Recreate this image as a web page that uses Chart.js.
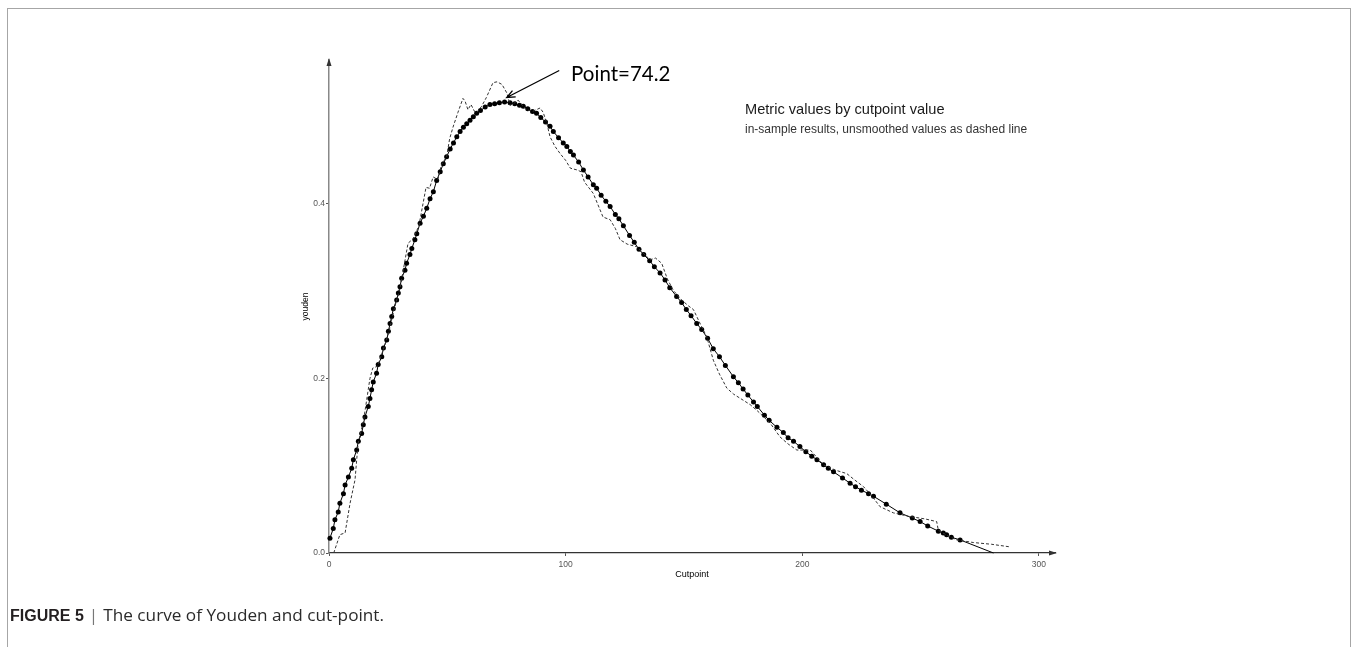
<!DOCTYPE html>
<html>
<head>
<meta charset="utf-8">
<script src="https://cdn.jsdelivr.net/npm/chart.js@4.4.1/dist/chart.umd.min.js"></script>
<style>
    html, body { margin: 0; padding: 0; background: #fff; }
    #wrap { position: relative; width: 1352px; height: 647px; overflow: hidden; }
    #frame { position: absolute; left: 7px; top: 8px; width: 1344px; height: 660px;
             border: 1px solid #a6a6a6; border-bottom: none; box-sizing: border-box; }
    #youdenChart { position: absolute; left: 0; top: 0; }
    #caption { position: absolute; left: 10px; top: 603px; font: 17.2px "Open Sans", Arial, sans-serif;
               color: #2b2b2b; white-space: nowrap; }
    #caption b { font: bold 16px "Liberation Sans", Arial, sans-serif; color: #231f20; }
    #caption .sep { color: #777; padding: 0 5px 0 5px; }
</style>
</head>
<body>
<div id="wrap">
    <div id="frame"></div>
    <canvas id="youdenChart" width="1352" height="647"></canvas>
    <div id="caption"><b>FIGURE 5</b><span class="sep">|</span>The curve of Youden and cut-point.</div>
</div>
<script>
// smoothed curve (dots + solid line)
const smoothCut = [0.4, 1.8, 2.5, 3.9, 4.6, 6.1, 6.8, 8.2, 9.6, 10.3, 11.7, 12.4, 13.8, 14.5, 15.2, 16.6, 17.3, 18.0, 18.7, 20.1,
    20.8, 22.3, 23.0, 24.4, 25.1, 25.8, 26.5, 27.2, 28.6, 29.3, 30.0, 30.7, 32.1, 32.8, 34.2, 35.0, 36.3, 37.1, 38.5, 39.9,
    41.3, 42.7, 44.1, 45.5, 47.0, 48.3, 49.7, 51.2, 52.6, 54.0, 55.4, 56.8, 58.2, 59.6, 61.0, 62.4, 64.0, 66.0, 68.0, 70.0,
    72.0, 74.2, 76.5, 78.5, 80.5, 82.1, 84.0, 86.0, 87.7, 89.5, 91.5, 93.4, 94.8, 97.0, 99.0, 100.5, 102.0, 103.3, 105.5, 107.5,
    109.5, 111.7, 113.1, 115.0, 117.0, 118.8, 121.0, 122.5, 124.4, 127.0, 129.0, 131.0, 133.0, 135.5, 137.5, 139.9, 142.0, 144.0, 146.9, 149.0,
    151.0, 153.0, 155.4, 157.5, 160.0, 162.4, 165.0, 167.5, 170.9, 173.0, 175.0, 177.0, 179.4, 181.0, 184.0, 186.0, 189.3, 192.0, 194.0, 196.3,
    199.0, 201.5, 204.0, 206.2, 209.0, 211.0, 213.2, 217.0, 220.2, 222.5, 225.0, 228.0, 230.1, 235.5, 241.3, 246.5, 249.8, 253.0, 257.5, 259.6,
    261.0, 263.0, 266.7, 280.8];
const smoothYouden = [0.017, 0.028, 0.038, 0.047, 0.057, 0.068, 0.078, 0.087, 0.097, 0.107, 0.118, 0.128, 0.137, 0.147, 0.156, 0.168, 0.177, 0.187, 0.196, 0.206,
    0.216, 0.225, 0.235, 0.244, 0.254, 0.263, 0.271, 0.280, 0.290, 0.298, 0.305, 0.315, 0.324, 0.332, 0.342, 0.349, 0.359, 0.366, 0.378, 0.386,
    0.395, 0.406, 0.414, 0.427, 0.437, 0.446, 0.454, 0.463, 0.470, 0.477, 0.483, 0.488, 0.492, 0.496, 0.500, 0.504, 0.507, 0.511, 0.514, 0.515,
    0.516, 0.517, 0.516, 0.515, 0.513, 0.512, 0.509, 0.506, 0.504, 0.499, 0.494, 0.489, 0.483, 0.476, 0.470, 0.466, 0.460, 0.456, 0.448, 0.439,
    0.431, 0.422, 0.418, 0.410, 0.403, 0.397, 0.388, 0.383, 0.375, 0.364, 0.356, 0.348, 0.342, 0.335, 0.328, 0.321, 0.313, 0.304, 0.294, 0.287,
    0.279, 0.272, 0.263, 0.256, 0.246, 0.234, 0.225, 0.215, 0.202, 0.195, 0.188, 0.181, 0.173, 0.168, 0.158, 0.152, 0.144, 0.138, 0.132, 0.128,
    0.122, 0.116, 0.111, 0.107, 0.101, 0.097, 0.093, 0.086, 0.080, 0.076, 0.072, 0.068, 0.065, 0.056, 0.046, 0.040, 0.036, 0.031, 0.025, 0.023,
    0.021, 0.018, 0.015, 0.000];

// unsmoothed values (dashed line)
const rawCut = [2.0, 4.6, 6.8, 8.9, 11.0, 12.3, 14.5, 17.3, 18.5, 20.5, 22.8, 25.0, 27.5, 30.0, 33.4, 35.5, 38.0, 41.0, 42.5, 44.0,
    46.0, 47.5, 49.7, 51.0, 52.4, 54.5, 56.6, 57.5, 58.7, 60.0, 61.5, 62.5, 64.5, 66.5, 69.3, 71.0, 73.1, 75.2, 76.5, 78.0,
    79.9, 82.0, 83.7, 86.0, 89.2, 90.5, 92.0, 93.4, 95.5, 97.6, 100.0, 102.0, 104.8, 106.5, 108.0, 111.7, 115.8, 118.8, 121.0, 123.0,
    126.0, 130.0, 133.0, 135.7, 138.0, 140.6, 143.0, 145.5, 149.0, 152.0, 154.0, 155.4, 157.0, 159.6, 162.4, 165.0, 168.1, 171.0, 175.1, 178.0,
    181.0, 186.4, 190.6, 194.0, 197.7, 203.4, 206.0, 209.0, 214.0, 218.8, 222.0, 225.9, 229.5, 232.9, 238.5, 245.0, 252.0, 256.8, 257.5, 262.0,
    265.3, 272.3, 280.0, 287.8];
const rawYouden = [0.000, 0.021, 0.023, 0.057, 0.084, 0.126, 0.150, 0.200, 0.212, 0.214, 0.232, 0.250, 0.279, 0.303, 0.355, 0.360, 0.375, 0.419, 0.418, 0.431,
    0.428, 0.445, 0.454, 0.475, 0.488, 0.505, 0.521, 0.518, 0.508, 0.514, 0.506, 0.505, 0.512, 0.522, 0.539, 0.540, 0.537, 0.527, 0.513, 0.515,
    0.519, 0.512, 0.508, 0.506, 0.510, 0.505, 0.493, 0.477, 0.466, 0.458, 0.450, 0.441, 0.439, 0.437, 0.425, 0.412, 0.385, 0.382, 0.372, 0.359,
    0.354, 0.351, 0.343, 0.336, 0.338, 0.332, 0.314, 0.301, 0.290, 0.283, 0.279, 0.271, 0.262, 0.248, 0.221, 0.205, 0.189, 0.182, 0.175, 0.170,
    0.163, 0.149, 0.133, 0.125, 0.118, 0.118, 0.110, 0.101, 0.095, 0.091, 0.084, 0.076, 0.065, 0.053, 0.046, 0.042, 0.039, 0.036, 0.026, 0.019,
    0.015, 0.012, 0.010, 0.007];

const xTicks = [0, 100, 200, 300];
const yTicks = [0.0, 0.2, 0.4];
const bestCutpoint = 74.2;

document.addEventListener('DOMContentLoaded', function() {
    const smoothPoints = smoothCut.map((c, i) => ({ x: c, y: smoothYouden[i] }));
    const rawPoints = rawCut.map((c, i) => ({ x: c, y: rawYouden[i] }));

    // arrows on the axes, the annotation and the small title block
    const extrasPlugin = {
        id: 'extras',
        afterDraw(chart) {
            const ctx = chart.ctx;
            const xs = chart.scales.x;
            const ys = chart.scales.y;
            const area = chart.chartArea;
            ctx.save();

            // axis arrowheads
            ctx.fillStyle = '#333';
            ctx.beginPath();
            ctx.moveTo(area.left, area.top - 2);
            ctx.lineTo(area.left - 2.5, area.top + 6);
            ctx.lineTo(area.left + 2.5, area.top + 6);
            ctx.closePath();
            ctx.fill();
            ctx.beginPath();
            ctx.moveTo(area.right + 2, area.bottom);
            ctx.lineTo(area.right - 6, area.bottom - 2.5);
            ctx.lineTo(area.right - 6, area.bottom + 2.5);
            ctx.closePath();
            ctx.fill();

            // "Point=74.2" label with arrow
            const tipX = xs.getPixelForValue(bestCutpoint + 0.9);
            const tipY = ys.getPixelForValue(0.522);
            const tailX = xs.getPixelForValue(97.3);
            const tailY = ys.getPixelForValue(0.553);
            ctx.strokeStyle = '#000';
            ctx.lineWidth = 1.3;
            ctx.beginPath();
            ctx.moveTo(tailX, tailY);
            ctx.lineTo(tipX, tipY);
            const ang = Math.atan2(tipY - tailY, tipX - tailX);
            ctx.moveTo(tipX - 9 * Math.cos(ang - 0.4), tipY - 9 * Math.sin(ang - 0.4));
            ctx.lineTo(tipX, tipY);
            ctx.lineTo(tipX - 9 * Math.cos(ang + 0.4), tipY - 9 * Math.sin(ang + 0.4));
            ctx.stroke();

            ctx.fillStyle = '#000';
            ctx.font = '20.5px Lato, "Open Sans", sans-serif';
            ctx.textBaseline = 'alphabetic';
            ctx.textAlign = 'left';
            ctx.fillText('Point=' + bestCutpoint, xs.getPixelForValue(102.3), 81);

            // title block
            ctx.fillStyle = '#1a1a1a';
            ctx.font = '14.6px "Liberation Sans", Arial, sans-serif';
            ctx.fillText('Metric values by cutpoint value', 745, 114);
            ctx.fillStyle = '#333';
            ctx.font = '12px "Liberation Sans", Arial, sans-serif';
            ctx.fillText('in-sample results, unsmoothed values as dashed line', 745, 133);
            ctx.restore();
        }
    };

    const ctxYouden = document.getElementById('youdenChart').getContext('2d');
    new Chart(ctxYouden, {
        type: 'line',
        data: {
            datasets: [{
                label: 'unsmoothed',
                data: rawPoints,
                borderColor: '#333',
                borderWidth: 1,
                borderDash: [3, 2],
                pointRadius: 0,
                fill: false,
                tension: 0
            }, {
                label: 'youden',
                data: smoothPoints,
                borderColor: '#000',
                backgroundColor: '#000',
                borderWidth: 1,
                pointRadius: ctx => (ctx.dataIndex === smoothPoints.length - 1 ? 0 : 2.5),
                pointBackgroundColor: '#000',
                pointBorderWidth: 0,
                fill: false,
                tension: 0
            }]
        },
        options: {
            responsive: false,
            animation: false,
            clip: false,
            layout: {
                padding: { left: 297, right: 297, top: 60, bottom: 64 }
            },
            plugins: {
                legend: { display: false },
                tooltip: { enabled: false }
            },
            scales: {
                x: {
                    type: 'linear',
                    min: 0,
                    max: 306.8,
                    afterBuildTicks: s => { s.ticks = xTicks.map(v => ({ value: v })); },
                    afterFit: s => { s.height = 30; },
                    grid: { drawOnChartArea: false, drawTicks: true, tickLength: 3, color: '#555' },
                    border: { display: true, color: '#333', width: 1.3 },
                    ticks: {
                        padding: 4,
                        color: '#555',
                        font: { family: '"Liberation Sans", Arial, sans-serif', size: 8.5 },
                        maxRotation: 0
                    },
                    title: {
                        display: true,
                        text: 'Cutpoint',
                        color: '#000',
                        padding: { top: 0, bottom: 3.5 },
                        font: { family: '"Liberation Sans", Arial, sans-serif', size: 9 }
                    }
                },
                y: {
                    type: 'linear',
                    min: 0,
                    max: 0.565,
                    afterBuildTicks: s => { s.ticks = yTicks.map(v => ({ value: v })); },
                    afterFit: s => { s.width = 32; },
                    grid: { drawOnChartArea: false, drawTicks: true, tickLength: 3, color: '#555' },
                    border: { display: true, color: '#888', width: 1.5 },
                    ticks: {
                        padding: 1,
                        color: '#555',
                        font: { family: '"Liberation Sans", Arial, sans-serif', size: 8.5 },
                        callback: v => v.toFixed(1)
                    },
                    title: {
                        display: true,
                        text: 'youden',
                        color: '#000',
                        padding: { top: 3.5, bottom: 0 },
                        font: { family: '"Liberation Sans", Arial, sans-serif', size: 8.5 }
                    }
                }
            }
        },
        plugins: [extrasPlugin]
    });
});
</script>
</body>
</html>
